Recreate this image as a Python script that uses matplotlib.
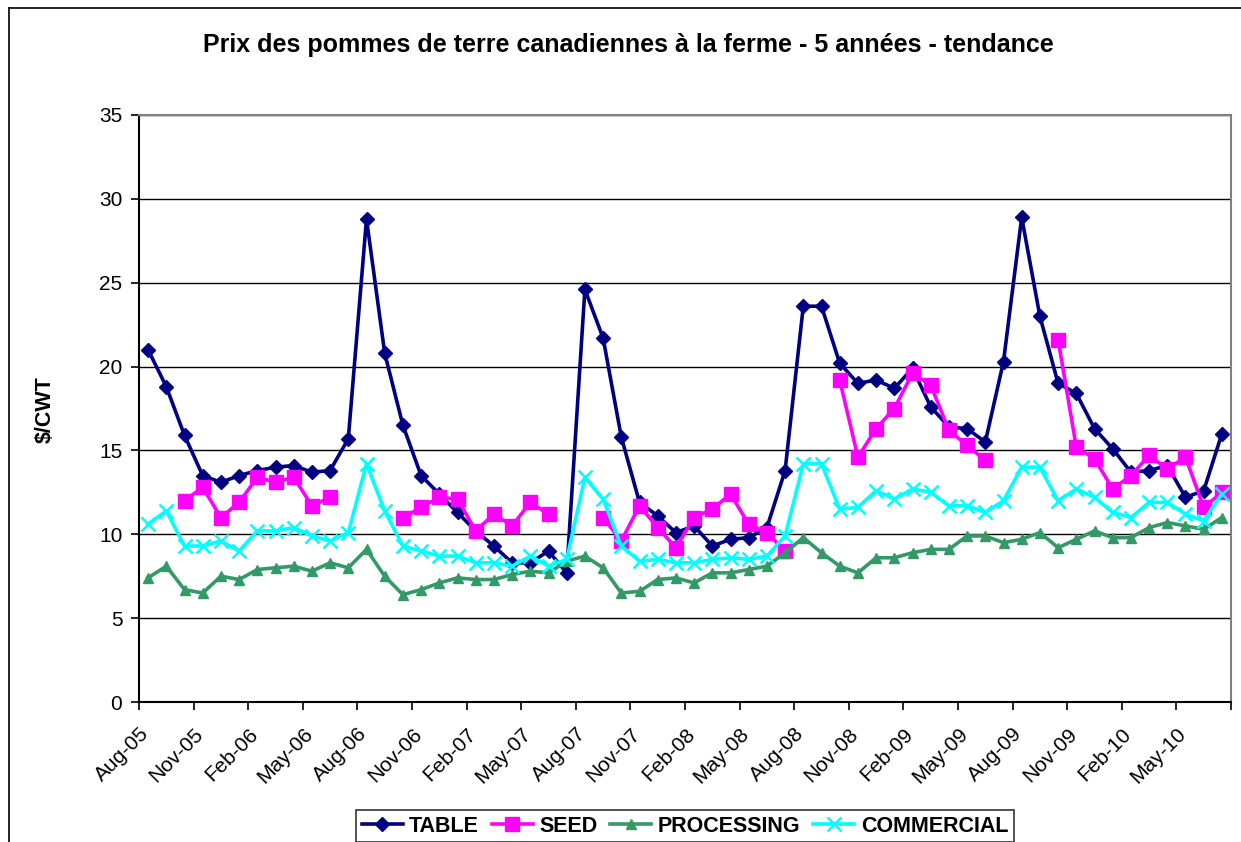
import numpy as np
import matplotlib
matplotlib.use("Agg")
import matplotlib.pyplot as plt
from matplotlib.lines import Line2D

plt.rcParams['font.family'] = ['Liberation Sans', 'DejaVu Sans']

nan = np.nan

# monthly prices, Aug-05 .. Jul-10 ($/CWT)
table = [21.0, 18.8, 15.9, 13.5, 13.1, 13.5, 13.8, 14.0, 14.1, 13.7, 13.8, 15.7,
         28.8, 20.8, 16.5, 13.5, 12.4, 11.3, 10.2, 9.3, 8.3, 8.3, 9.0, 7.7,
         24.6, 21.7, 15.8, 11.9, 11.1, 10.1, 10.5, 9.3, 9.7, 9.8, 10.4, 13.8,
         23.6, 23.6, 20.2, 19.0, 19.2, 18.7, 19.9, 17.6, 16.4, 16.3, 15.5, 20.3,
         28.9, 23.0, 19.0, 18.4, 16.3, 15.1, 13.7, 13.8, 14.1, 12.2, 12.6, 16.0]
seed = [nan, nan, 12.0, 12.8, 11.0, 11.9, 13.4, 13.1, 13.4, 11.7, 12.2, nan,
        nan, nan, 11.0, 11.6, 12.2, 12.1, 10.2, 11.2, 10.5, 11.9, 11.2, nan,
        nan, 11.0, 9.6, 11.7, 10.4, 9.2, 11.0, 11.5, 12.4, 10.6, 10.1, 9.0,
        nan, nan, 19.2, 14.6, 16.3, 17.5, 19.6, 18.9, 16.2, 15.3, 14.4, nan,
        nan, nan, 21.6, 15.2, 14.5, 12.7, 13.5, 14.7, 13.9, 14.6, 11.6, 12.5]
processing = [7.4, 8.1, 6.7, 6.5, 7.5, 7.3, 7.9, 8.0, 8.1, 7.8, 8.3, 8.0,
              9.1, 7.5, 6.4, 6.7, 7.1, 7.4, 7.3, 7.3, 7.6, 7.8, 7.7, 8.4,
              8.7, 8.0, 6.5, 6.6, 7.3, 7.4, 7.1, 7.7, 7.7, 7.9, 8.1, 8.9,
              9.8, 8.9, 8.1, 7.7, 8.6, 8.6, 8.9, 9.1, 9.1, 9.9, 9.9, 9.5,
              9.7, 10.1, 9.2, 9.7, 10.2, 9.8, 9.8, 10.4, 10.7, 10.5, 10.3, 11.0]
commercial = [10.6, 11.4, 9.3, 9.3, 9.6, 9.0, 10.2, 10.2, 10.4, 9.9, 9.6, 10.1,
              14.2, 11.4, 9.3, 9.0, 8.7, 8.7, 8.3, 8.3, 8.1, 8.7, 8.1, 8.5,
              13.4, 12.1, 9.3, 8.4, 8.5, 8.3, 8.3, 8.5, 8.6, 8.5, 8.7, 9.9,
              14.2, 14.2, 11.5, 11.6, 12.6, 12.1, 12.7, 12.5, 11.7, 11.7, 11.3, 12.0,
              14.0, 14.0, 12.0, 12.7, 12.2, 11.3, 11.0, 11.9, 11.9, 11.2, 10.8, 12.4]
tick_labels = ['Aug-05', 'Nov-05', 'Feb-06', 'May-06', 'Aug-06', 'Nov-06', 'Feb-07',
               'May-07', 'Aug-07', 'Nov-07', 'Feb-08', 'May-08', 'Aug-08', 'Nov-08',
               'Feb-09', 'May-09', 'Aug-09', 'Nov-09', 'Feb-10', 'May-10']

x = np.arange(len(table))

fig = plt.figure(figsize=(12.41, 8.42), dpi=100)
ax = fig.add_axes([139 / 1241, 140 / 842, 1092 / 1241, 587 / 842])

lw = 2.6
ax.plot(x, table, color='#000080', lw=lw, marker='D', ms=7.5, label='TABLE')
ax.plot(x, seed, color='#FF00FF', lw=lw, marker='s', ms=10, label='SEED')
ax.plot(x, processing, color='#339966', lw=lw, marker='^', ms=7.5, label='PROCESSING')
ax.plot(x, commercial, color='#00FFFF', lw=lw, marker='x', ms=10, mew=1.8, label='COMMERCIAL')

ax.set_xlim(-0.5, len(table) - 0.5)
ax.set_ylim(0, 35)
ax.set_yticks(np.arange(0, 36, 5))
ax.yaxis.grid(True, color='black', lw=1.0)
ax.set_axisbelow(True)

pos = np.arange(0, len(table) + 1, 3) - 0.5
ax.set_xticks(pos, tick_labels + [''])
plt.setp(ax.get_xticklabels(), rotation=45, ha='right', va='top', rotation_mode='anchor')
ax.tick_params(axis='both', labelsize=15, length=6, width=1.2, color='black', direction='out')
ax.tick_params(axis='x', pad=10)
ax.tick_params(axis='y', pad=6)

for side in ['left', 'bottom']:
    ax.spines[side].set_color('black')
    ax.spines[side].set_linewidth(1.5)
for side in ['right', 'top']:
    ax.spines[side].set_color('#808080')
    ax.spines[side].set_linewidth(1.5)

fig.text(45 / 1241, 1 - 410 / 842, '$/CWT', rotation=90, ha='center', va='center',
         fontsize=15.5, fontweight='bold')
fig.text(628 / 1241, 1 - 45 / 842, 'Prix des pommes de terre canadiennes à la ferme - 5 années - tendance',
         ha='center', va='center', fontsize=18, fontweight='bold')

leg = fig.legend(loc='center', bbox_to_anchor=(685 / 1241, 1 - 826 / 842), ncol=4,
                 frameon=True, fancybox=False, edgecolor='black', handlelength=1.9,
                 handletextpad=0.3, columnspacing=0.6, borderpad=0.25,
                 prop={'weight': 'bold', 'size': 15.5})
leg.get_frame().set_linewidth(1.2)

# chart area border (top and left edges visible)
fig.add_artist(Line2D([9 / 1241, 9 / 1241], [0, 1 - 8 / 842], transform=fig.transFigure, color='black', lw=1.2))
fig.add_artist(Line2D([9 / 1241, 1], [1 - 8 / 842, 1 - 8 / 842], transform=fig.transFigure, color='black', lw=1.2))

fig.savefig('out.png', dpi=100)
